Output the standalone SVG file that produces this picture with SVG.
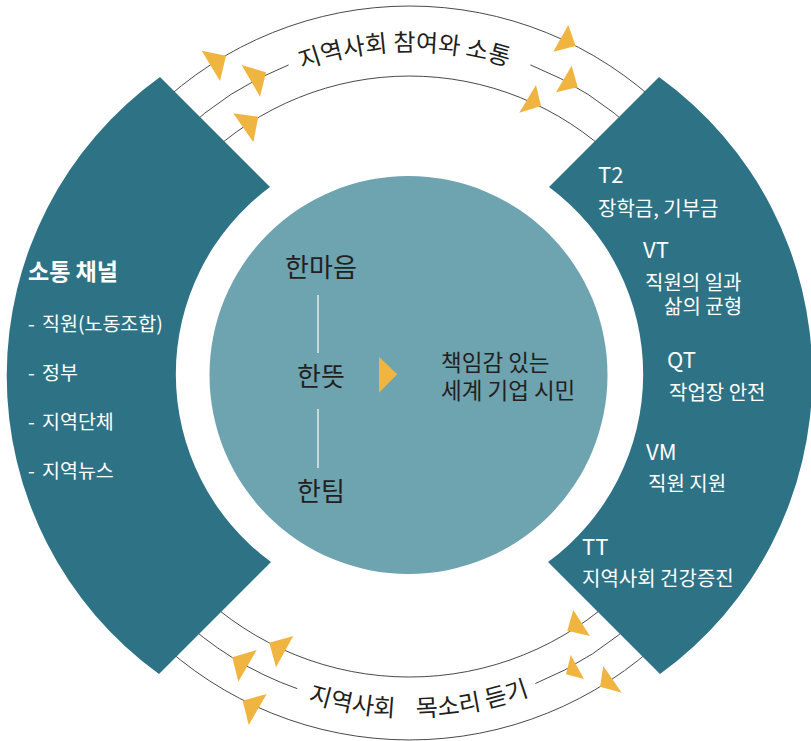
<svg xmlns="http://www.w3.org/2000/svg" width="811" height="741" viewBox="0 0 811 741">
  <style>
    .seg { fill: #2E7385; }
    .core { fill: #6EA3B0; }
    .arc { fill: none; stroke: #4a4a4a; stroke-width: 1; }
    .arrow { fill: #F0B440; }
    .k { font-family: "Noto Sans CJK KR", "Noto Sans", sans-serif; }
    .w { fill: #ffffff; }
    .d { fill: #231F20; }
    .sep { stroke: #ffffff; stroke-width: 1.2; }
    .lbl { font-size: 22px; }
    .sub { font-size: 20px; }
    .lst { font-size: 19.5px; }
  </style>
  <defs>
    <path id="topText" d="M88.5,372 A321,321 0 0 1 730.5,372"/>
    <path id="botText" d="M64.5,372 A345,345 0 0 0 754.5,372"/>
  </defs>

  <g id="connectors">
    <path class="arc" d="M155.3,108.7 A366,366 0 0 1 663.7,108.7"/>
    <path class="arc" d="M180.3,134.6 A330,330 0 0 1 288.6,64.9"/>
    <path class="arc" d="M530.4,64.9 A330,330 0 0 1 638.7,134.6"/>
    <path class="arc" d="M203.9,159.1 A296,296 0 0 1 615.1,159.1"/>
    <path class="arc" d="M153.9,636.7 A368,368 0 0 0 665.1,636.7"/>
    <path class="arc" d="M176.1,613.7 A336,336 0 0 0 297.3,688.7"/>
    <path class="arc" d="M535.4,683.5 A336,336 0 0 0 642.9,613.7"/>
    <path class="arc" d="M197.6,591.4 A305,305 0 0 0 621.4,591.4"/>
    <polygon class="arrow" points="201.7,50.7 226,55.7 220,81"/>
    <polygon class="arrow" points="241.7,65 266,72.3 260,96.7"/>
    <polygon class="arrow" points="233.3,113.3 258.3,116.7 253.3,142.3"/>
    <polygon class="arrow" points="568.3,25 575.7,46 553.3,51.7"/>
    <polygon class="arrow" points="571.7,65.7 577.7,87.3 556,92.3"/>
    <polygon class="arrow" points="536,85 541,106 519.3,112.7"/>
    <polygon class="arrow" points="293.3,636 269.3,642.7 276,667.3"/>
    <polygon class="arrow" points="256.7,650 232.3,657.3 238.3,681.7"/>
    <polygon class="arrow" points="266.7,694 242.7,700.7 248.7,725"/>
    <polygon class="arrow" points="573.3,610 590,636 567.3,630.7"/>
    <polygon class="arrow" points="570.7,655 584,679 566,674.3"/>
    <polygon class="arrow" points="603.3,666 621.7,692.7 600,686.7"/>
    <text class="k d" font-size="24"><textPath href="#topText" startOffset="49.5%" text-anchor="middle">지역사회 참여와 소통</textPath></text>
    <text class="k d" font-size="24" xml:space="preserve"><textPath href="#botText" startOffset="50.9%" text-anchor="middle">지역사회    목소리 듣기</textPath></text>
  </g>

  <g id="left-channel">
    <path class="seg" d="M160,77 A368,368 0 0 0 159,674 L271,562 A233,233 0 0 1 270,187 Z"/>
    <text class="k w" x="28" y="280" font-size="23" font-weight="bold">소통 채널</text>
    <text class="k w lst" x="28" y="331">- <tspan x="42">직원(노동조합)</tspan></text>
    <text class="k w lst" x="28" y="380">- <tspan x="42">정부</tspan></text>
    <text class="k w lst" x="28" y="429">- <tspan x="42">지역단체</tspan></text>
    <text class="k w lst" x="28" y="478">- <tspan x="42">지역뉴스</tspan></text>
  </g>

  <g id="right-programs">
    <path class="seg" d="M659,77 A368,368 0 0 1 660,674 L548,562 A233,233 0 0 0 549,187 Z"/>
    <text class="k w lbl" x="598" y="183">T2</text>
    <text class="k w sub" x="598" y="216">장학금, 기부금</text>
    <text class="k w lbl" x="643" y="258">VT</text>
    <text class="k w sub" x="645" y="290">직원의 일과</text>
    <text class="k w sub" x="664" y="314">삶의 균형</text>
    <text class="k w lbl" x="667" y="368">QT</text>
    <text class="k w sub" x="669" y="400">작업장 안전</text>
    <text class="k w lbl" x="646" y="460">VM</text>
    <text class="k w sub" x="648" y="491">직원 지원</text>
    <text class="k w lbl" x="582" y="555">TT</text>
    <text class="k w sub" x="582" y="586">지역사회 건강증진</text>
  </g>

  <g id="core">
    <circle class="core" cx="408.5" cy="375" r="199"/>
    <text class="k d" x="321" y="277" font-size="26" text-anchor="middle">한마음</text>
    <line class="sep" x1="318" y1="295" x2="318" y2="353"/>
    <text class="k d" x="321" y="386" font-size="26" text-anchor="middle">한뜻</text>
    <line class="sep" x1="318" y1="409" x2="318" y2="468"/>
    <text class="k d" x="321" y="501" font-size="26" text-anchor="middle">한팀</text>
    <polygon class="arrow" points="379,356.7 397.3,374.3 379,392.7"/>
    <text class="k d" x="441" y="371" font-size="22.5">책임감 있는</text>
    <text class="k d" x="441" y="399" font-size="22.5">세계 기업 시민</text>
  </g>
</svg>
